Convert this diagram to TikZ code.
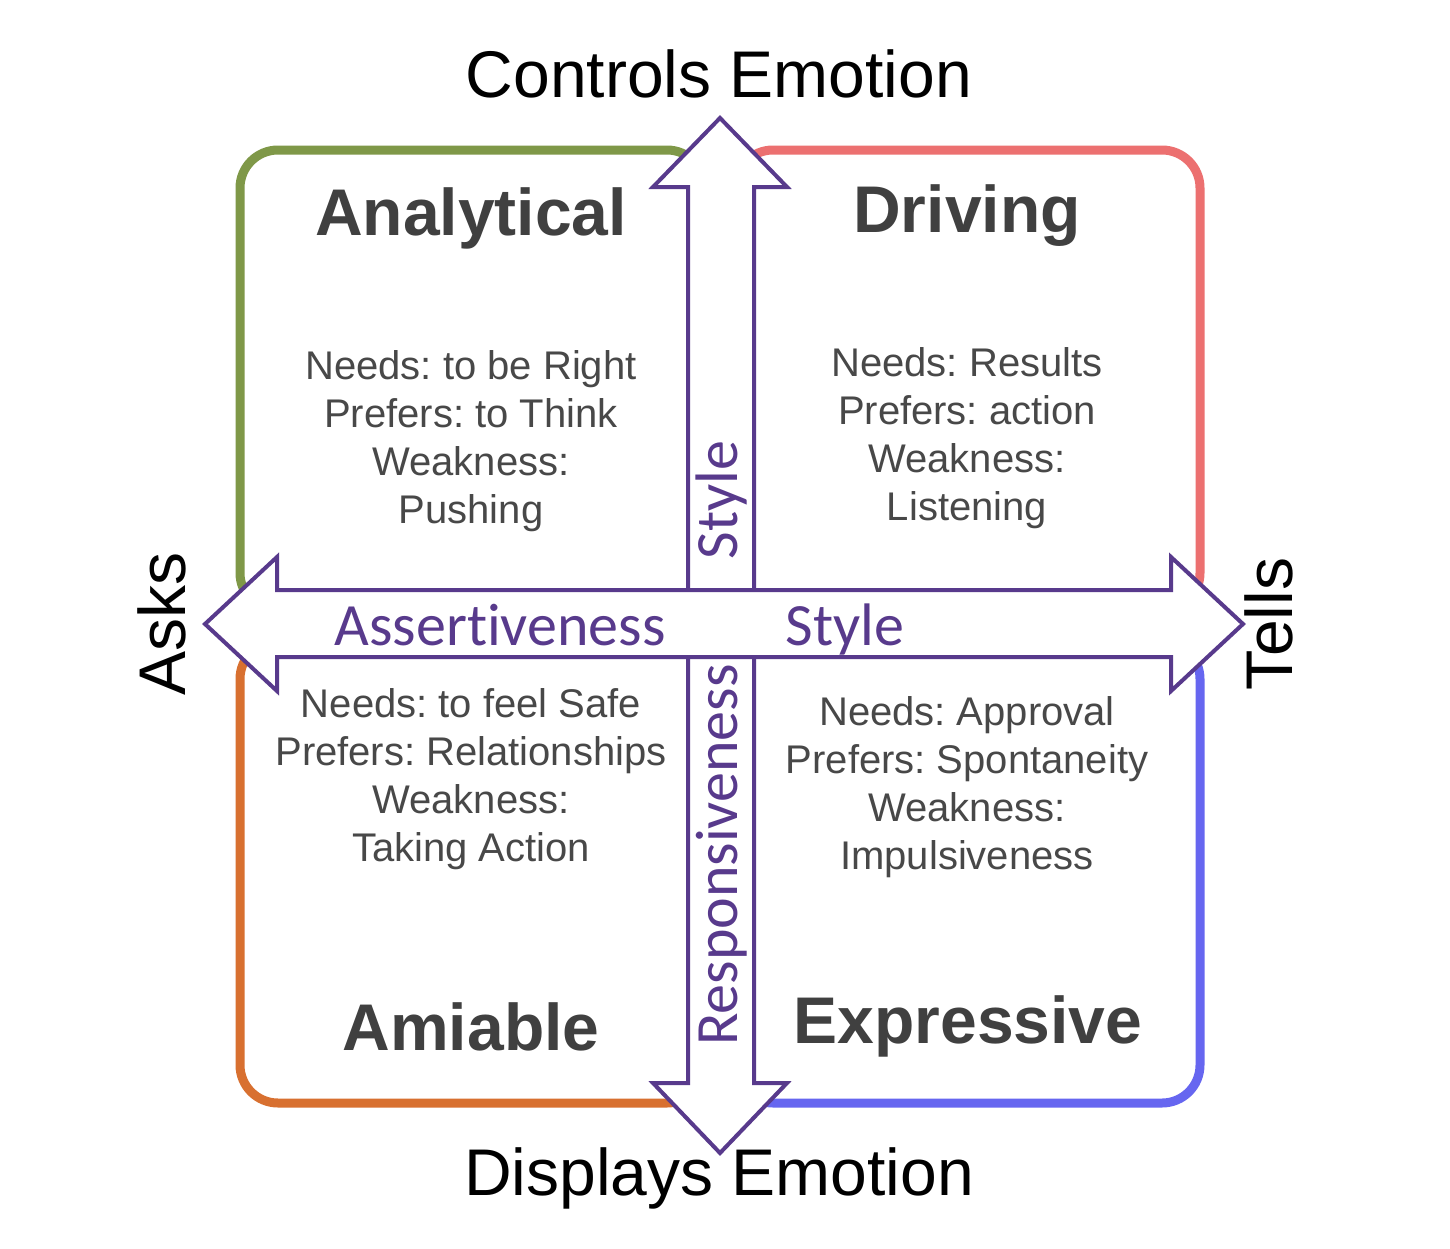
\documentclass[tikz,border=0pt]{standalone}
\usepackage{fontspec}
\setmainfont{Liberation Sans}
\newfontfamily\slidefont[Ligatures=NoCommon]{Carlito}
\frenchspacing

\definecolor{qgreen}{RGB}{127,152,72}
\definecolor{qred}{RGB}{236,112,112}
\definecolor{qorange}{RGB}{216,112,48}
\definecolor{qblue}{RGB}{102,102,240}
\definecolor{axispurple}{RGB}{88,58,140}
\definecolor{titlegray}{RGB}{64,64,64}
\definecolor{bodygray}{RGB}{72,72,72}

\tikzset{
  quad/.style={line width=4.5pt, rounded corners=19pt, fill=white},
  axisarrow/.style={draw=axispurple, line width=2pt, fill=white, line join=miter},
  axislabel/.style={text=axispurple, font=\slidefont\fontsize{30}{36}\selectfont, inner sep=0pt},
  outerlabel/.style={font=\fontsize{33}{40}\selectfont, inner sep=0pt},
  quadtitle/.style={text=titlegray, font=\bfseries\fontsize{33}{40}\selectfont, inner sep=0pt},
  quadbody/.style={text=bodygray, align=center, font=\fontsize{20}{24}\selectfont, inner sep=0pt}
}

\begin{document}
\begin{tikzpicture}[x=0.5pt,y=-0.5pt]
\useasboundingbox[fill=white] (0,0) rectangle (1450,1248);

% quadrants
\draw[quad, draw=qgreen] (240,150) rectangle (705,611);
\draw[quad, draw=qred] (735,150) rectangle (1200,611);
\draw[quad, draw=qorange] (240,641) rectangle (705,1103);
\draw[quad, draw=qblue] (735,641) rectangle (1200,1103);

\node[quadtitle, anchor=base] (analytical) at (471,235) {Analytical};
\node[quadtitle, anchor=base] (driving) at (967,232) {Driving};
\node[quadtitle, anchor=base] (amiable) at (471,1050) {Amiable};
\node[quadtitle, anchor=base] (expressive) at (968,1043) {Expressive};

\node[quadbody] (analyticalbody) at (471,441) {Needs: to be Right\\Prefers: to Think\\Weakness:\\Pushing};
\node[quadbody] (drivingbody) at (967,438) {Needs: Results\\Prefers: action\\Weakness:\\Listening};
\node[quadbody] (amiablebody) at (471,779) {Needs: to feel Safe\\Prefers: Relationships\\Weakness:\\Taking Action};
\node[quadbody] (expressivebody) at (967,787) {Needs: Approval\\Prefers: Spontaneity\\Weakness:\\Impulsiveness};

% responsiveness axis
\draw[axisarrow] (720,118) -- (787,187) -- (754,187) -- (754,1083) -- (787,1083)
  -- (720,1153) -- (653,1083) -- (688,1083) -- (688,187) -- (653,187) -- cycle;
\node[axislabel, rotate=90, anchor=base] (vstyle) at (737,500) {Style};
\node[axislabel, rotate=90, anchor=base] (responsiveness) at (737,855) {Responsiveness};

% assertiveness axis
\draw[axisarrow] (205,624) -- (277,557) -- (277,590) -- (1171,590) -- (1171,557)
  -- (1243,624) -- (1171,691) -- (1171,657) -- (277,657) -- (277,691) -- cycle;
\node[axislabel, anchor=base] (assertiveness) at (500,645) {Assertiveness};
\node[axislabel, anchor=base] (hstyle) at (845,645) {Style};

% outer labels
\node[outerlabel, anchor=base] (controls) at (719,97) {Controls Emotion};
\node[outerlabel, anchor=base] (displays) at (719,1195) {Displays Emotion};
\node[outerlabel, rotate=90] (asks) at (162,624) {Asks};
\node[outerlabel, rotate=90] (tells) at (1269,624) {Tells};
\end{tikzpicture}
\end{document}
